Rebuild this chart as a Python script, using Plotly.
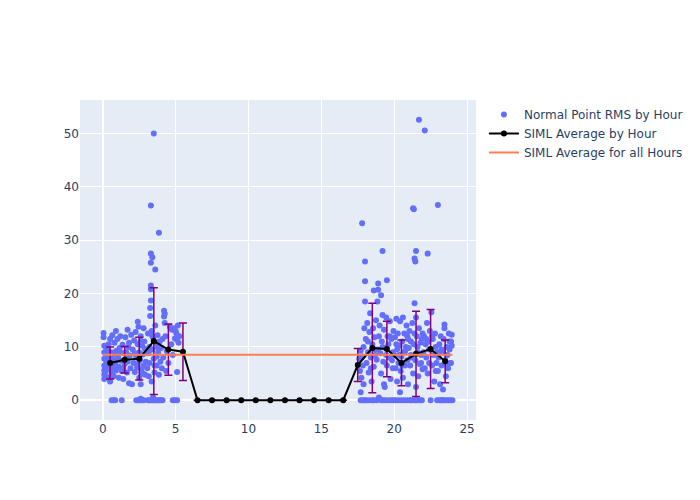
import plotly.graph_objects as go

# Normal point RMS observations (hour of day, RMS)
np_hours = [
    0.05,0.05,0.1,0.1,0.1,0.1,0.1,0.1,0.1,0.15,0.2,0.2,0.25,0.3,0.3,0.35,0.4,0.4,0.45,0.5,0.55,0.6,0.6,0.65,0.7,0.7,0.75,0.8,0.85,0.9,0.9,0.95,0.6,0.75,0.85,
    0.2,0.3,0.45,0.5,0.65,0.8,0.9,
    1.0,1.05,1.1,1.1,1.15,1.2,1.25,1.3,1.35,1.4,1.45,1.5,1.55,1.6,1.65,1.7,1.7,1.75,1.8,1.85,1.9,1.95,1.3,
    1.2,1.4,1.6,1.8,
    2.0,2.05,2.1,2.15,2.2,2.25,2.3,2.35,2.4,2.4,2.45,2.5,2.5,2.55,2.6,2.6,2.65,2.7,2.75,2.8,2.8,2.85,2.9,2.9,2.95,2.3,2.45,2.55,2.6,2.7,2.8,
    2.2,2.4,2.6,2.75,
    3.05,3.1,3.1,3.15,3.2,3.2,3.25,3.25,3.3,3.3,3.3,3.3,3.3,3.3,3.35,3.35,3.4,3.4,3.45,3.5,3.5,3.55,3.6,3.6,3.65,3.7,3.7,3.75,3.8,3.85,3.85,3.9,3.95,3.1,3.2,3.3,3.4,3.45,3.5,3.6,3.7,3.8,3.9,4.0,4.1,
    3.15,3.4,3.55,3.75,
    4.0,4.05,4.1,4.15,4.2,4.2,4.25,4.25,4.3,4.35,4.4,4.5,4.6,4.7,4.75,4.8,4.9,4.95,4.8,4.95,5.1,
    5.0,5.05,5.1,5.15,5.2,5.1,5.25,
    17.6,17.65,17.7,17.7,17.75,17.8,17.85,17.9,17.8,17.9,17.95,17.7,17.85,17.95,
    18.0,18.0,18.0,18.05,18.1,18.15,18.2,18.25,18.3,18.35,18.4,18.45,18.5,18.55,18.6,18.6,18.65,18.7,18.75,18.8,18.85,18.9,18.9,18.95,18.1,18.3,18.5,18.6,18.8,18.95,
    18.2,18.4,18.7,18.9,
    19.0,19.05,19.1,19.1,19.15,19.2,19.2,19.25,19.3,19.35,19.4,19.45,19.5,19.5,19.55,19.6,19.65,19.7,19.75,19.8,19.85,19.9,19.95,19.3,19.1,19.25,19.4,19.6,19.8,19.95,
    19.2,19.45,19.7,19.9,
    20.0,20.05,20.1,20.15,20.2,20.2,20.25,20.3,20.35,20.4,20.4,20.45,20.5,20.55,20.6,20.6,20.65,20.7,20.75,20.8,20.85,20.9,20.95,20.95,20.1,20.3,20.5,20.7,20.9,
    20.15,20.35,20.55,20.75,20.9,
    21.0,21.05,21.1,21.15,21.2,21.25,21.3,21.35,21.3,21.35,21.4,21.45,21.4,21.45,21.5,21.5,21.5,21.55,21.6,21.65,21.7,21.7,21.75,21.8,21.85,21.9,21.95,21.95,21.1,21.2,21.4,21.5,21.6,21.8,21.9,
    21.15,21.4,21.6,21.85,
    22.0,22.05,22.1,22.1,22.15,22.2,22.25,22.3,22.3,22.35,22.4,22.45,22.5,22.55,22.6,22.65,22.7,22.75,22.8,22.85,22.9,22.95,22.5,22.95,
    22.2,22.4,22.6,22.85,
    23.0,23.0,23.05,23.1,23.15,23.2,23.25,23.3,23.35,23.4,23.45,23.45,23.5,23.55,23.6,23.65,23.7,23.75,23.8,23.85,23.9,23.95,23.95,23.9,23.1,23.2,23.3,23.4,23.55,23.7,23.85,24.0,
    23.25,23.6,23.8,
]
np_rms = [
    12.6,11.8,10.2,9.0,7.8,6.5,5.6,4.8,4.0,5.2,8.3,6.0,7.2,9.5,4.3,5.8,10.5,8.0,6.8,3.5,9.0,5.0,7.6,12.2,8.5,6.2,4.5,10.8,7.0,13.0,5.6,9.3,0,0,0,
    10.0,6.5,8.8,11.5,5.5,9.0,7.5,
    11.5,8.2,6.3,4.2,9.8,12.0,7.4,5.5,10.4,4.0,8.8,6.8,11.8,9.0,5.2,13.2,7.2,10.0,3.2,8.4,6.0,12.3,0,
    9.0,6.0,7.8,10.8,
    3.0,9.5,7.0,11.2,5.3,12.8,8.0,6.2,10.5,14.7,13.8,4.2,9.0,7.5,12.0,3.0,5.8,10.2,8.6,6.5,13.5,11.0,4.8,9.6,7.2,0,0,0,0.3,0,0,
    8.8,6.8,11.0,5.0,
    6.0,8.8,12.5,4.5,10.0,7.0,15.8,17.3,18.7,20.8,21.5,25.8,27.5,36.5,3.5,13.0,26.8,9.5,11.8,50.0,7.8,5.2,24.5,14.0,10.8,8.2,6.5,12.2,9.0,31.4,4.8,11.0,7.2,0,0,0,0,0.5,0,0,0,0,0,0,0,
    9.0,12.0,6.5,10.0,
    9.8,6.0,11.5,8.0,16.8,15.7,16.2,14.5,12.0,5.5,9.2,7.0,13.8,10.5,13.2,8.5,13.5,11.6,0,0,0,
    13.0,12.5,11.3,14.0,10.8,5.3,12.0,
    7.8,5.5,9.3,1.5,4.2,8.2,6.5,10.0,33.2,3.0,13.5,0,0,0,
    26.0,22.3,18.5,11.5,7.0,14.5,9.0,5.2,12.8,16.3,8.0,3.5,10.5,13.5,20.6,6.3,11.8,9.5,15.0,7.6,18.5,21.9,20.7,12.0,0,0,0,0,0,0.5,
    11.0,6.0,8.5,9.5,
    14.0,8.8,19.7,5.0,11.0,28.0,16.0,7.2,13.2,2.5,9.8,15.5,22.5,6.5,12.0,10.5,8.0,14.8,4.0,11.5,7.5,9.0,13.0,3.0,0,0,0,0,0,0,
    10.0,8.5,12.0,6.0,
    8.5,11.8,6.0,15.3,9.5,3.5,12.5,7.0,10.2,1.5,14.8,5.5,8.2,11.0,15.5,4.2,9.0,12.5,6.5,10.0,14.0,7.5,11.5,3.0,0,0,0,0,0,
    10.5,8.5,6.5,9.2,12.0,
    9.8,13.0,6.5,11.0,8.0,14.5,36.0,35.8,5.0,10.5,26.6,26.0,18.2,7.5,28.0,15.5,2.5,12.0,9.0,4.5,52.6,13.5,6.8,10.8,8.5,11.5,5.8,12.5,0,0,0,0,0,0,0,
    8.5,12.5,10.0,7.0,
    9.0,12.0,50.6,6.0,10.5,8.0,14.5,27.5,5.0,11.0,7.0,13.0,9.5,16.5,6.5,11.5,8.5,3.5,12.5,10.0,7.0,9.0,0,0,
    11.5,9.5,12.0,5.5,
    36.6,5.5,8.0,10.5,3.0,12.0,6.5,9.0,2.0,11.5,14.2,13.5,7.5,4.5,10.0,8.5,6.0,12.5,9.5,7.0,11.0,12.3,10.2,7.0,0,0,0,0,0,0,0,0,
    9.5,6.8,11.0,
]

# Hourly SIML averages and standard deviations
avg_hours = [0.5,1.5,2.5,3.5,4.5,5.5,6.5,7.5,8.5,9.5,10.5,11.5,12.5,13.5,14.5,15.5,16.5,17.5,18.5,19.5,20.5,21.5,22.5,23.5]
avg_rms = [7.0,7.6,7.8,11.1,9.5,9.1,0,0,0,0,0,0,0,0,0,0,0,6.6,9.8,9.6,7.0,8.7,9.6,7.3]
avg_std = [3.0,2.5,4.0,10.0,4.8,5.4,0,0,0,0,0,0,0,0,0,0,0,3.1,8.4,5.2,4.3,8.0,7.4,4.0]

overall_avg = 8.55
overall_x = [0, 24]

fig = go.Figure()
fig.add_trace(go.Scatter(
    x=np_hours, y=np_rms, mode="markers",
    marker=dict(color="#636efa", size=6),
    name="Normal Point RMS by Hour",
))
fig.add_trace(go.Scatter(
    x=avg_hours, y=avg_rms, mode="lines+markers",
    line=dict(color="black", width=2),
    marker=dict(color="black", size=6),
    error_y=dict(type="data", array=avg_std, visible=True, color="purple", thickness=1.5, width=4),
    name="SIML Average by Hour",
))
fig.add_trace(go.Scatter(
    x=overall_x, y=[overall_avg, overall_avg], mode="lines",
    line=dict(color="coral", width=2),
    name="SIML Average for all Hours",
))
fig.update_layout(width=700, height=500, font=dict(family="DejaVu Sans"))
fig.write_html("out.html")
